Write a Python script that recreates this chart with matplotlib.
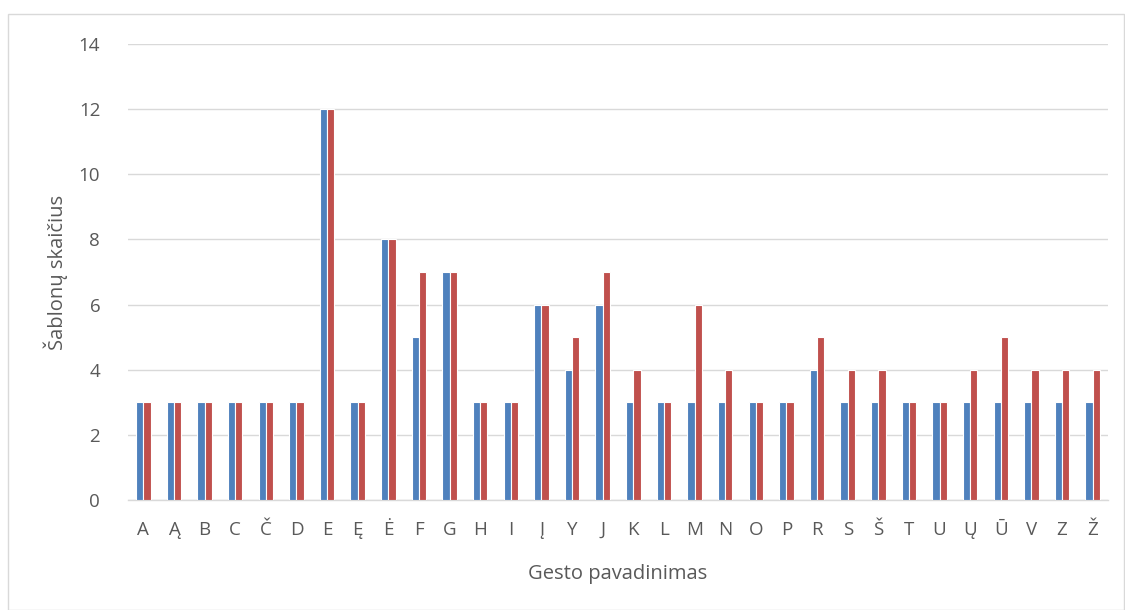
import matplotlib
matplotlib.use("Agg")
import matplotlib.pyplot as plt
import numpy as np
from matplotlib.patches import Rectangle

categories = ["A", "Ą", "B", "C", "Č", "D", "E", "Ę", "Ė", "F", "G", "H", "I", "Į", "Y", "J",
              "K", "L", "M", "N", "O", "P", "R", "S", "Š", "T", "U", "Ų", "Ū", "V", "Z", "Ž"]
series_blue = [3, 3, 3, 3, 3, 3, 12, 3, 8, 5, 7, 3, 3, 6, 4, 6,
               3, 3, 3, 3, 3, 3, 4, 3, 3, 3, 3, 3, 3, 3, 3, 3]
series_red = [3, 3, 3, 3, 3, 3, 12, 3, 8, 7, 7, 3, 3, 6, 5, 7,
              4, 3, 6, 4, 3, 3, 5, 4, 4, 3, 3, 4, 5, 4, 4, 4]
yticks = [0, 2, 4, 6, 8, 10, 12, 14]

plt.rcParams['font.family'] = ['Open Sans', 'DejaVu Sans']
text_color = "#595959"

fig = plt.figure(figsize=(11.25, 6.1), dpi=100)
fig.patches.append(Rectangle((8 / 1125, 0.0), 1 - 8 / 1125 - 0.001, 1 - 14 / 610,
                             transform=fig.transFigure, fill=False,
                             edgecolor="#D9D9D9", linewidth=1.0))
ax = fig.add_axes([128 / 1125, 1 - 500 / 610, (1108 - 128) / 1125, (500 - 44) / 610])

x = np.arange(len(categories))
w = 0.235
ax.bar(x - w / 2, series_blue, width=w, color="#4F81BD", edgecolor="white", linewidth=0.8, zorder=3)
ax.bar(x + w / 2, series_red, width=w, color="#C0504D", edgecolor="white", linewidth=0.8, zorder=3)

ax.set_xlim(-0.5, len(categories) - 0.5)
ax.set_ylim(0, 14)
ax.set_yticks(yticks)
ax.set_xticks(x)
ax.set_xticklabels(categories)
ax.yaxis.grid(True, color="#D9D9D9", linewidth=1.0, zorder=0)
ax.set_axisbelow(True)
for s in ["top", "right", "left"]:
    ax.spines[s].set_visible(False)
ax.spines["bottom"].set_color("#D9D9D9")
ax.spines["bottom"].set_linewidth(1.0)
ax.tick_params(axis="both", length=0, colors=text_color, labelsize=13.5)
ax.tick_params(axis="x", pad=15)
ax.tick_params(axis="y", pad=20)
ax.set_xlabel("Gesto pavadinimas", fontsize=14.5, color=text_color, labelpad=18)
ax.set_ylabel("Šablonų skaičius", fontsize=14.5, color=text_color, labelpad=8)

fig.savefig("out.png", dpi=100)
